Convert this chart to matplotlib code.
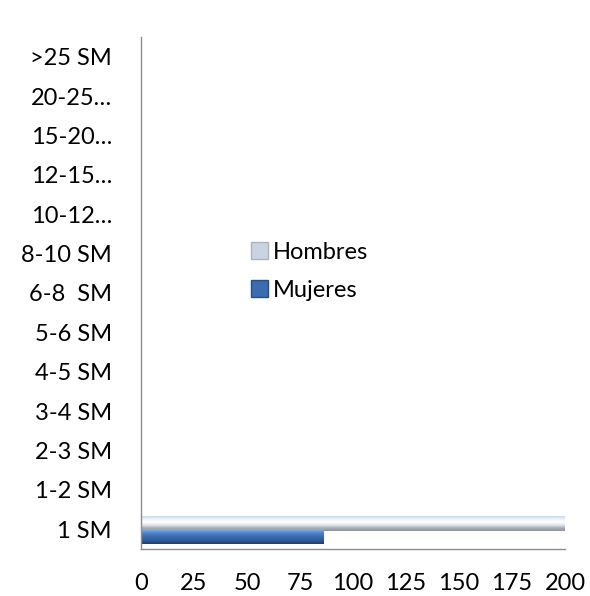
import numpy as np
import matplotlib
matplotlib.use("Agg")
import matplotlib.pyplot as plt
from matplotlib.colors import LinearSegmentedColormap
from matplotlib.patches import Patch

categories = ["1 SM", "1-2 SM", "2-3 SM", "3-4 SM", "4-5 SM", "5-6 SM", "6-8  SM",
              "8-10 SM", "10-12…", "12-15…", "15-20…", "20-25…", ">25 SM"]
hombres = [230, 0, 0, 0, 0, 0, 0, 0, 0, 0, 0, 0, 0]
mujeres = [86, 0, 0, 0, 0, 0, 0, 0, 0, 0, 0, 0, 0]
xticks = [0, 25, 50, 75, 100, 125, 150, 175, 200]

plt.rcParams['font.family'] = ['Lato', 'DejaVu Sans']
FS = 17

fig = plt.figure(figsize=(5.9, 5.96), dpi=100)
ax = fig.add_axes([0.2390, 0.0789, 0.7186, 0.859])

y = np.arange(len(categories))
h = 0.37
XMAX = 200

hombres_cmap = LinearSegmentedColormap.from_list(
    "hom", ["#c9d8ee", "#eef3fa", "#ffffff", "#e2e5ea", "#a9afb8", "#8e949c"])
mujeres_cmap = LinearSegmentedColormap.from_list(
    "muj", ["#8ab2e6", "#4f86cc", "#3b6cb0", "#2f5b98", "#1f3f6e"])

def gradient_bars(ypos, values, offset, cmap):
    bars = ax.barh(ypos + offset, values, height=h, color="none", edgecolor="none")
    grad = np.linspace(0, 1, 64).reshape(-1, 1)
    for b in bars:
        w = b.get_width()
        if w <= 0:
            continue
        y0 = b.get_y()
        ax.imshow(grad, cmap=cmap, aspect="auto", interpolation="bilinear",
                  extent=[0, min(w, XMAX), y0, y0 + b.get_height()],
                  origin="upper", zorder=2)
    return bars

gradient_bars(y, hombres, 0.15, hombres_cmap)
gradient_bars(y, mujeres, -0.19, mujeres_cmap)

ax.set_xlim(0, XMAX)
ax.set_ylim(-0.5, len(categories) - 0.5)
ax.set_yticks(y)
ax.set_yticklabels(categories, fontsize=FS)
ax.set_xticks(xticks)
ax.set_xticklabels([str(t) for t in xticks], fontsize=FS)
ax.tick_params(length=0)
ax.tick_params(axis="y", pad=21)
ax.tick_params(axis="x", pad=17)

for s in ["top", "right"]:
    ax.spines[s].set_visible(False)
for s in ["left", "bottom"]:
    ax.spines[s].set_color("#8c8c8c")
    ax.spines[s].set_linewidth(1.0)

handles = [Patch(facecolor="#c9d3e2", edgecolor="#aab4c2", label="Hombres"),
           Patch(facecolor="#3b6cb0", edgecolor="#274d85", label="Mujeres")]
fig.legend(handles=handles, loc="upper left", bbox_to_anchor=(0.405, 0.614),
           frameon=False, fontsize=FS, handlelength=0.75, handleheight=0.75,
           handletextpad=0.2, labelspacing=0.72, borderpad=0)

fig.savefig("out.png", dpi=100)
